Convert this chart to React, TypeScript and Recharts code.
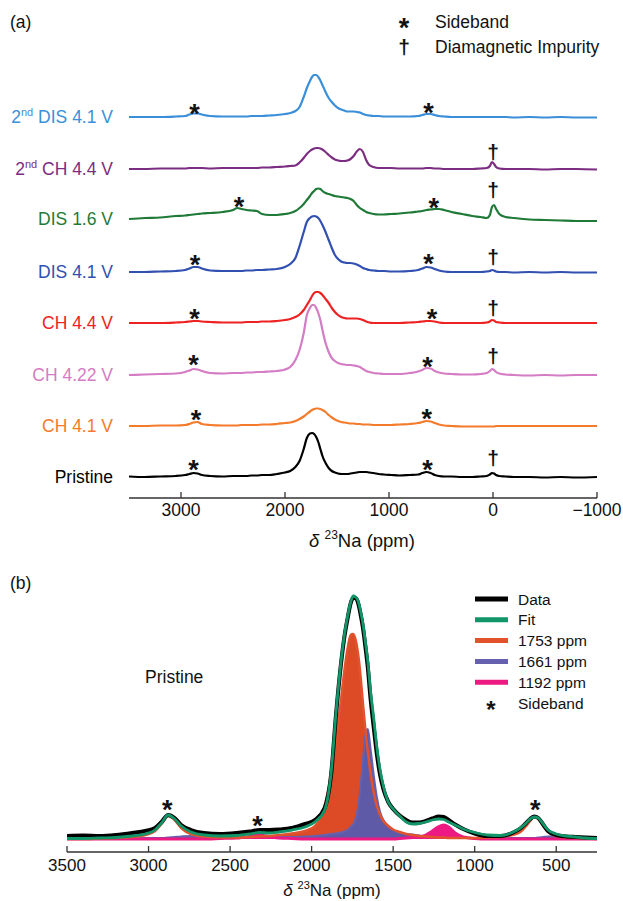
import React from 'react';
import { ComposedChart, Line, Area, Scatter, XAxis, YAxis } from 'recharts';

const FONT = '"Liberation Sans", Arial, Helvetica, sans-serif';

// ---------------- Panel (a): stacked 23Na spectra ----------------
const PPM_A = [
  3500, 3350, 3200, 3050, 2960, 2920, 2880, 2840, 2800, 2720,
  2600, 2500, 2460, 2420, 2370, 2320, 2270, 2220, 2150, 2080,
  2000, 1950, 1900, 1860, 1820, 1790, 1760, 1740, 1720, 1700,
  1680, 1660, 1640, 1610, 1580, 1550, 1520, 1490, 1460, 1430,
  1400, 1370, 1340, 1310, 1280, 1250, 1220, 1190, 1150, 1100,
  1050, 980, 900, 800, 720, 680, 640, 600, 560, 520,
  470, 400, 300, 200, 120, 60, 30, 10, -10, -30,
  -60, -120, -200, -350, -500, -650, -800, -1000,
];

const PRISTINE = [
  0.5, 0, 0.5, 1, 2, 3, 4, 3.5, 2, 1,
  0.5, 1, 1, 1, 1, 1.5, 1.5, 2, 2, 3,
  4.5, 6, 10, 16, 28, 39, 43.5, 44, 43, 40,
  35, 28, 21, 14, 9, 6, 4.5, 3.5, 3, 3,
  3, 3.5, 4, 4.5, 5, 5, 5, 4.5, 4, 3,
  2.5, 2, 1.5, 2, 2.5, 4, 5, 4, 2, 1,
  0.5, 0.5, 0, 0, 0.5, 1, 2.5, 4, 3.5, 2,
  1, 0.5, 0, 0, -0.5, 0, -0.5, 0,
];

const CH_41 = [
  0, 0, 0.5, 0.5, 1, 2, 3.5, 4, 2, 1,
  0.5, 0.5, 0.5, 1, 1, 1, 1, 1.5, 1.5, 2,
  3, 3.5, 5, 7, 9.5, 12, 14.5, 16, 17, 17.5,
  17.5, 17, 16, 14, 11, 8.5, 6.5, 5, 4, 3.5,
  3, 2.5, 2.5, 2, 2, 1.5, 1.5, 1.5, 1, 1,
  1, 1, 1.5, 2, 3, 4, 5, 4.5, 3, 1.5,
  0.5, 0, -0.5, -0.5, -0.5, -0.5, -0.5, -0.5, -0.5, 0,
  0, 0, 0, 0, 0, 0, 0, 0,
];

const CH_422 = [
  0, 0.5, 1, 1.5, 3, 4.5, 6, 5.5, 4, 2,
  1.5, 2, 2, 2, 2.5, 2.5, 3, 3, 3.5, 4,
  5.5, 8, 15, 25, 42, 60, 67, 70, 70, 67,
  62, 55, 45, 32, 23, 17, 14, 12, 11, 10.5,
  10, 10, 9.5, 9, 8, 6, 4, 3, 2, 1.5,
  1, 1, 1, 2, 3.5, 5, 7, 6.5, 4, 2.5,
  1.5, 1, 0.5, 0.5, 1, 2, 4, 6, 5, 3,
  1.5, 0.5, 0, -0.5, 0, -0.5, 0, 0,
];

const CH_44 = [
  0, 0, 0, 0.5, 1, 1.5, 2, 2, 1.5, 1,
  0.5, 0.5, 0.5, 0.5, 1, 1, 1, 1.5, 1.5, 2,
  3, 4, 6, 8.5, 13, 18, 23, 27, 30, 31,
  31, 30, 28, 24, 20, 15, 11, 8, 6, 5,
  4.5, 4.5, 4.5, 4.5, 4, 3, 1.5, 0.5, 0, 0,
  0, 0, 0, 0.5, 1, 1.5, 2, 2, 1.5, 0.5,
  0, 0, 0, 0, 0, 0.5, 1.5, 3, 2.5, 1,
  0.5, 0, 0, 0, 0, 0, 0, 0,
];

const DIS_41 = [
  0, 0, 0.5, 1, 2, 3.5, 5, 5, 3.5, 1.5,
  1, 1, 1, 1, 1.5, 1.5, 2, 2, 2.5, 3,
  5, 8, 14, 26, 40, 50, 54, 55.5, 56, 55.5,
  54, 51, 47, 40, 32, 24, 17, 13, 10.5, 9.5,
  9, 9, 8.5, 7.5, 6, 4, 3, 2, 1.5, 1,
  1, 0.5, 0.5, 1, 2, 3.5, 5, 4.5, 3, 1.5,
  0.5, 0, 0, 0, 0, 0.5, 1, 2, 1.5, 0.5,
  0, 0, -0.5, 0, -0.5, 0, -0.5, -0.5,
];

const DIS_16 = [
  2, 3, 3.5, 5, 5.5, 6, 6.5, 7, 7.5, 8,
  9, 11, 13, 12, 11, 10.5, 10, 7, 6, 6,
  7, 8, 10, 13, 17, 21, 25, 28, 30, 32,
  32.5, 32, 30, 28, 27, 26, 25, 24.5, 24, 23.5,
  23, 22, 20, 16, 13, 11, 9, 8, 7, 6.5,
  6.5, 7, 7.5, 8.5, 9.5, 10, 11, 11.5, 12, 12,
  11, 9, 7, 5, 4, 3, 6, 14, 16, 12,
  7, 4, 3, 1.5, 1, 0.5, 0, 0,
];

const CH2_44 = [
  0, 0, 0.5, 0.5, 0.5, 1, 1, 1, 1, 0.5,
  1, 1, 1, 1, 1, 1, 1, 1.5, 1.5, 2,
  2.5, 3, 3.5, 6.5, 11, 15, 18, 19.5, 20.5, 21,
  21, 20.5, 19.5, 17, 14, 11.5, 9.5, 8.5, 8, 8,
  8.5, 10, 13, 17.5, 20, 17, 9, 4, 2, 1,
  1, 1, 0.5, 0.5, 0.5, 0.5, 1, 1, 0.5, 0.5,
  0, 0, 0, 0, 0.5, 1, 3, 7, 5, 2,
  0.5, 0, 0, 0, -0.5, 0, 0, -0.5,
];

const DIS2_41 = [
  0, 0, 0, 0.5, 1, 2.5, 3.5, 3.5, 2.5, 1,
  0.5, 0.5, 0.5, 0.5, 0.5, 1, 1, 1, 1.5, 2,
  3, 4, 6, 10, 20, 29, 36, 40, 42, 42,
  40, 36.5, 32, 25, 19, 15, 11.5, 9, 7.5, 6.5,
  5.5, 5.5, 5.5, 5, 4.5, 3, 2, 1.5, 1, 1,
  0.5, 0.5, 0.5, 0.5, 1, 2, 3, 3, 2, 1,
  0.5, 0, 0, 0, 0, 0, 0, 0, 0, 0,
  0, 0, -0.5, 0, -0.5, 0, -0.5, -0.5,
];

const SERIES_A = [
  { key: 'dis2', pre: '2', sup: 'nd', post: ' DIS 4.1 V', color: '#3b8fd9', offset: 381, values: DIS2_41 },
  { key: 'ch2', pre: '2', sup: 'nd', post: ' CH 4.4 V', color: '#7b2d82', offset: 329, values: CH2_44 },
  { key: 'dis16', pre: '', sup: '', post: 'DIS 1.6 V', color: '#1f7a38', offset: 277, values: DIS_16 },
  { key: 'dis41', pre: '', sup: '', post: 'DIS 4.1 V', color: '#3150b0', offset: 226, values: DIS_41 },
  { key: 'ch44', pre: '', sup: '', post: 'CH 4.4 V', color: '#ee2222', offset: 175, values: CH_44 },
  { key: 'ch422', pre: '', sup: '', post: 'CH 4.22 V', color: '#d47cc4', offset: 123, values: CH_422 },
  { key: 'ch41', pre: '', sup: '', post: 'CH 4.1 V', color: '#f47b2b', offset: 72, values: CH_41 },
  { key: 'pristine', pre: '', sup: '', post: 'Pristine', color: '#000000', offset: 21, values: PRISTINE },
];

const TICKS_A = [3000, 2000, 1000, 0, -1000];

const MARKS_A = [
  { ppm: 2870, v: 391, s: '*' }, { ppm: 620, v: 392, s: '*' },
  { ppm: 0, v: 346, s: '†' },
  { ppm: 2442, v: 298, s: '*' }, { ppm: 570, v: 297, s: '*' }, { ppm: 0, v: 308, s: '†' },
  { ppm: 2866, v: 240, s: '*' }, { ppm: 620, v: 241, s: '*' }, { ppm: 0, v: 241, s: '†' },
  { ppm: 2870, v: 186, s: '*' }, { ppm: 586, v: 186, s: '*' }, { ppm: 0, v: 190, s: '†' },
  { ppm: 2880, v: 140, s: '*' }, { ppm: 630, v: 138, s: '*' }, { ppm: 0, v: 142, s: '†' },
  { ppm: 2855, v: 85, s: '*' }, { ppm: 637, v: 86, s: '*' },
  { ppm: 2880, v: 35, s: '*' }, { ppm: 630, v: 35, s: '*' }, { ppm: 0, v: 40, s: '†' },
];

// ---------------- Panel (b): pristine fit ----------------
const PPM_B = [
  3500, 3400, 3300, 3200, 3100, 3020, 2960, 2920, 2880, 2840,
  2800, 2740, 2660, 2560, 2460, 2380, 2320, 2260, 2200, 2120,
  2040, 1980, 1920, 1880, 1850, 1820, 1800, 1780, 1760, 1745,
  1730, 1715, 1700, 1685, 1670, 1655, 1640, 1620, 1600, 1580,
  1560, 1530, 1500, 1460, 1420, 1380, 1340, 1300, 1260, 1220,
  1190, 1160, 1120, 1070, 1000, 920, 840, 770, 720, 690,
  660, 635, 610, 580, 550, 500, 440, 380, 320, 250,
];

const DATA_B = [
  16, 16.5, 16, 17, 19, 21, 24, 30, 37, 34,
  27, 22, 19, 18, 19, 20.5, 22, 22, 22.5, 24,
  28, 32, 44, 78, 138, 188, 214, 233, 249, 254,
  254, 249, 238, 224, 205, 184, 156, 126, 98, 77,
  63, 50, 43, 36.5, 32, 29.5, 29.5, 31, 33.5, 35.5,
  35, 32, 27.5, 23, 18.5, 16, 16, 19, 23.5, 28,
  33, 35.5, 34, 27.5, 21, 17, 15.5, 15, 14.5, 14,
];

const FIT_B = [
  13.5, 13.5, 14, 14.5, 16, 18, 22, 29, 37, 33,
  26, 20, 17, 16, 16.5, 18, 19.5, 19, 20, 22,
  25, 30, 42, 80, 140, 190, 216, 235, 250, 256,
  255, 251, 241, 228, 210, 190, 163, 135, 105, 82,
  66, 50, 43, 36, 30, 28, 28.5, 30, 32, 33,
  32.5, 30, 27, 23, 19.5, 17, 16.5, 19.5, 24, 28,
  33, 35, 34, 28, 22, 18, 16, 15, 14, 13.5,
];

const C1753 = [
  13, 13, 13.5, 14, 15, 17, 21, 28, 36, 32,
  24, 18, 15.5, 14.5, 14.5, 15, 15.5, 16, 17, 18.5,
  21, 26, 46, 78, 112, 152, 180, 203, 217, 218,
  212, 198, 176, 148, 122, 100, 80, 60, 46, 37,
  31, 26, 22.5, 20, 18, 17, 16, 15.5, 15, 14.5,
  14.5, 14, 14, 14, 14, 14.5, 15, 17, 20, 25,
  31, 35, 33, 26, 20, 16, 14.5, 14, 13.5, 13,
];

const C1661 = [
  13, 13, 13, 13.5, 13.5, 14, 14, 14, 14.5, 15,
  15.5, 16, 15, 14, 14, 14, 14.5, 14.5, 15, 15,
  15.5, 16, 17, 18, 18.5, 19.5, 20.5, 22, 25, 28,
  33, 45, 65, 92, 118, 123, 105, 78, 55, 40,
  32, 26, 22, 19.5, 18, 17.5, 16.5, 16, 15.5, 15,
  15, 14.5, 14.5, 14, 14, 14, 14, 14, 14, 14,
  14, 14, 14.5, 15, 15.5, 16, 15, 14, 13.5, 13,
];

const C1192 = [
  13, 13, 13, 13, 13, 13, 13, 13, 13, 13,
  13, 13, 13, 13.5, 14, 15.5, 17, 15.5, 14, 13.5,
  13, 13, 13, 13, 13, 13, 13, 13, 13, 13,
  13, 13, 13, 13, 13, 13, 13, 13, 13, 13,
  13, 13, 13, 13.5, 14, 14.5, 15, 17, 21, 25.5,
  27, 25, 19, 15, 13.5, 13, 13, 13, 13, 13,
  13, 13, 13, 13, 13, 13, 13, 13, 13, 13,
];

const BASE_B = 13;
const CENTRE_BAND = [1330, 2270];
const TICKS_B = [3500, 3000, 2500, 2000, 1500, 1000, 500];
const MARKS_B = [
  { ppm: 2885, v: 49, s: '*' },
  { ppm: 2332, v: 33, s: '*' },
  { ppm: 628, v: 49, s: '*' },
];

const LEGEND_B = [
  { name: 'Data', color: '#000000' },
  { name: 'Fit', color: '#13956a' },
  { name: '1753 ppm', color: '#e2532d' },
  { name: '1661 ppm', color: '#6561ae' },
  { name: '1192 ppm', color: '#ec1a82' },
];

const rowsA = PPM_A.map((ppm, i) => {
  const row: Record<string, number> = { ppm };
  SERIES_A.forEach((s) => {
    row[s.key] = s.offset + s.values[i];
  });
  return row;
});

const labelPointsA = SERIES_A.map((s) => ({ ppm: PPM_A[0], v: s.offset + s.values[0], info: s }));

const rowsB = PPM_B.map((ppm, i) => ({
  ppm,
  data: DATA_B[i],
  fit: FIT_B[i],
  c1753: C1753[i],
  c1753fill: ppm >= CENTRE_BAND[0] && ppm <= CENTRE_BAND[1] ? C1753[i] : null,
  c1661: C1661[i],
  c1192: C1192[i],
}));

const fmt = (v: number) => (v < 0 ? '\u2212' + Math.abs(v) : String(v));

const makeTick = (fs: number, dy: number) => (props: any) => {
  const { x, y, payload } = props;
  return (
    <g>
      <line x1={x} x2={x} y1={y} y2={y - 6} stroke="#333" strokeWidth={1.3} />
      <text x={x} y={y + dy} textAnchor="middle" fontSize={fs} fill="#111" fontFamily={FONT}>
        {fmt(payload.value)}
      </text>
    </g>
  );
};

const STAR_FS = 27;
const DAGGER_FS = 21;

const Glyph = (props: any) => {
  const { cx, cy, payload } = props;
  if (cx == null || cy == null) return null;
  if (payload.s === '*') {
    return (
      <text x={cx} y={cy + 15.5} textAnchor="middle" fontSize={STAR_FS} fontWeight="bold" fontFamily={FONT} fill="#111">
        *
      </text>
    );
  }
  return (
    <text x={cx} y={cy + 6.5} textAnchor="middle" fontSize={DAGGER_FS} fontWeight="bold" fontFamily={FONT} fill="#111">
      †
    </text>
  );
};

const TraceLabel = (props: any) => {
  const { cx, cy, payload } = props;
  if (cx == null || cy == null) return null;
  const s = payload.info;
  return (
    <text x={cx - 16} y={cy + 6} textAnchor="end" fontSize={17.5} fontFamily={FONT} fill={s.color}>
      {s.pre ? <tspan>{s.pre}</tspan> : null}
      {s.sup ? (
        <tspan dy={-7} fontSize={11}>
          {s.sup}
        </tspan>
      ) : null}
      <tspan dy={s.sup ? 7 : 0}>{s.post}</tspan>
    </text>
  );
};

const AxisTitle = ({ x, y, fs }: { x: number; y: number; fs: number }) => (
  <text x={x} y={y} textAnchor="middle" fontSize={fs} fontFamily={FONT} fill="#111">
    <tspan fontStyle="italic">δ</tspan>
    <tspan> </tspan>
    <tspan dy={-fs * 0.42} fontSize={fs * 0.65}>
      23
    </tspan>
    <tspan dy={fs * 0.42}>Na (ppm)</tspan>
  </text>
);

export default function App() {
  return (
    <div style={{ position: 'absolute', left: 0, top: 0, width: 623, height: 901, background: '#fff', fontFamily: FONT }}>
      <div style={{ position: 'absolute', left: 0, top: 0 }}>
        <ComposedChart width={623} height={560} data={rowsA} margin={{ top: 58, right: 26, bottom: 0, left: 129 }}>
          <XAxis
            dataKey="ppm"
            type="number"
            domain={[-1000, 3500]}
            reversed
            ticks={TICKS_A}
            interval={0}
            height={62}
            tickSize={0}
            tickMargin={0}
            tickLine={false}
            axisLine={{ stroke: '#333', strokeWidth: 1.3 }}
            tick={makeTick(17.5, 18)}
          />
          <YAxis type="number" domain={[0, 440]} hide />
          {SERIES_A.map((s) => (
            <Line
              key={s.key}
              dataKey={s.key}
              type="monotone"
              stroke={s.color}
              strokeWidth={2.2}
              dot={false}
              isAnimationActive={false}
            />
          ))}
          <Scatter data={MARKS_A} dataKey="v" shape={Glyph} isAnimationActive={false} />
          <Scatter data={labelPointsA} dataKey="v" shape={TraceLabel} isAnimationActive={false} />
        </ComposedChart>
      </div>

      <div style={{ position: 'absolute', left: 0, top: 548 }}>
        <ComposedChart width={623} height={353} data={rowsB} margin={{ top: 24, right: 26, bottom: 0, left: 67 }}>
          <XAxis
            dataKey="ppm"
            type="number"
            domain={[250, 3500]}
            reversed
            allowDataOverflow
            ticks={TICKS_B}
            interval={0}
            height={49}
            tickSize={0}
            tickMargin={0}
            tickLine={false}
            axisLine={{ stroke: '#333', strokeWidth: 1.3 }}
            tick={makeTick(17, 19)}
          />
          <YAxis type="number" domain={[0, 280]} hide allowDataOverflow />
          <Area
            dataKey="c1753fill"
            type="monotone"
            baseValue={BASE_B}
            fill="#dc4b26"
            fillOpacity={1}
            stroke="none"
            isAnimationActive={false}
          />
          <Line dataKey="c1753" type="monotone" stroke="#e2532d" strokeWidth={2.5} dot={false} isAnimationActive={false} />
          <Area
            dataKey="c1661"
            type="monotone"
            baseValue={BASE_B}
            fill="#5f5aa8"
            fillOpacity={1}
            stroke="#6561ae"
            strokeWidth={2}
            isAnimationActive={false}
          />
          <Area
            dataKey="c1192"
            type="monotone"
            baseValue={BASE_B}
            fill="#ec1a82"
            fillOpacity={1}
            stroke="#ec1a82"
            strokeWidth={3}
            isAnimationActive={false}
          />
          <Line dataKey="data" type="monotone" stroke="#000" strokeWidth={4} dot={false} isAnimationActive={false} />
          <Line dataKey="fit" type="monotone" stroke="#13956a" strokeWidth={2.8} dot={false} isAnimationActive={false} />
          <Scatter data={MARKS_B} dataKey="v" shape={Glyph} isAnimationActive={false} />
        </ComposedChart>
      </div>

      <svg
        width={623}
        height={901}
        style={{ position: 'absolute', left: 0, top: 0, pointerEvents: 'none' }}
      >
        <text x={10} y={28} fontSize={17.5} fontFamily={FONT} fill="#111">(a)</text>
        <text x={404} y={37} textAnchor="middle" fontSize={STAR_FS} fontWeight="bold" fontFamily={FONT} fill="#111">*</text>
        <text x={435} y={28} fontSize={17.5} fontFamily={FONT} fill="#111">Sideband</text>
        <text x={404} y={53.5} textAnchor="middle" fontSize={DAGGER_FS} fontWeight="bold" fontFamily={FONT} fill="#111">†</text>
        <text x={435} y={52.5} fontSize={17.5} fontFamily={FONT} fill="#111">Diamagnetic Impurity</text>
        <AxisTitle x={362} y={547} fs={18.5} />

        <text x={10} y={589} fontSize={17.5} fontFamily={FONT} fill="#111">(b)</text>
        <text x={145} y={683} fontSize={17.5} fontFamily={FONT} fill="#111">Pristine</text>
        {LEGEND_B.map((e, i) => (
          <g key={e.name}>
            <line x1={475} x2={508} y1={599 + i * 20.8} y2={599 + i * 20.8} stroke={e.color} strokeWidth={5} />
            <text x={518} y={604.5 + i * 20.8} fontSize={15.5} fontFamily={FONT} fill="#111">{e.name}</text>
          </g>
        ))}
        <text x={491} y={718} textAnchor="middle" fontSize={24} fontWeight="bold" fontFamily={FONT} fill="#111">*</text>
        <text x={518} y={708.5} fontSize={15.5} fontFamily={FONT} fill="#111">Sideband</text>
        <AxisTitle x={332} y={896} fs={17} />
      </svg>
    </div>
  );
}
